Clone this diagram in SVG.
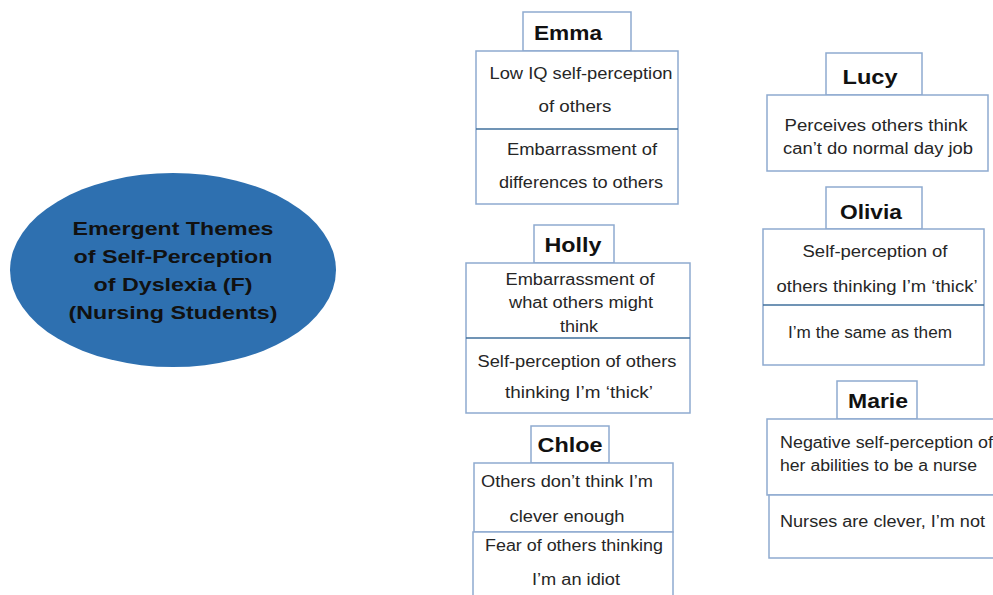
<svg xmlns="http://www.w3.org/2000/svg" width="993" height="595" viewBox="0 0 993 595">
<style>
.box{fill:#fff;stroke:#8eaad0;stroke-width:1.5}
.div{stroke:#41719c;stroke-width:1.5}
.t{font-family:"Liberation Sans",Arial,sans-serif;font-size:16px;fill:#262626;text-anchor:middle}
.l{text-anchor:start}
.h{font-family:"Liberation Sans",Arial,sans-serif;font-size:21px;font-weight:bold;fill:#111;text-anchor:middle}
.c{font-family:"Liberation Sans",Arial,sans-serif;font-size:19px;font-weight:bold;fill:#111;text-anchor:middle}
</style>
<rect width="993" height="595" fill="#fff"/>
<g id="center">
<ellipse cx="173" cy="270" rx="163" ry="97" fill="#2e70b0"/>
<text class="c" x="173" y="235" textLength="201" lengthAdjust="spacingAndGlyphs">Emergent Themes</text>
<text class="c" x="173" y="263" textLength="199" lengthAdjust="spacingAndGlyphs">of Self-Perception</text>
<text class="c" x="173" y="291" textLength="159" lengthAdjust="spacingAndGlyphs">of Dyslexia (F)</text>
<text class="c" x="173" y="319" textLength="209" lengthAdjust="spacingAndGlyphs">(Nursing Students)</text>
</g>
<g id="emma">
<rect class="box" x="523" y="12" width="108" height="39"/>
<text class="h" x="568" y="40" textLength="68" lengthAdjust="spacingAndGlyphs">Emma</text>
<rect class="box" x="476" y="51" width="202" height="153"/>
<line class="div" x1="476" y1="129" x2="678" y2="129"/>
<text class="t" x="581" y="79" textLength="183" lengthAdjust="spacingAndGlyphs">Low IQ self-perception</text>
<text class="t" x="575" y="112" textLength="73" lengthAdjust="spacingAndGlyphs">of others</text>
<text class="t" x="582" y="155" textLength="150" lengthAdjust="spacingAndGlyphs">Embarrassment of</text>
<text class="t" x="581" y="188" textLength="164" lengthAdjust="spacingAndGlyphs">differences to others</text>
</g>
<g id="holly">
<rect class="box" x="534" y="225" width="80" height="38"/>
<text class="h" x="573" y="252" textLength="57" lengthAdjust="spacingAndGlyphs">Holly</text>
<rect class="box" x="466" y="263" width="224" height="150"/>
<line class="div" x1="466" y1="338" x2="690" y2="338"/>
<text class="t" x="580" y="285" textLength="149" lengthAdjust="spacingAndGlyphs">Embarrassment of</text>
<text class="t" x="581" y="308" textLength="144" lengthAdjust="spacingAndGlyphs">what others might</text>
<text class="t" x="579" y="332" textLength="38" lengthAdjust="spacingAndGlyphs">think</text>
<text class="t" x="577" y="367" textLength="199" lengthAdjust="spacingAndGlyphs">Self-perception of others</text>
<text class="t" x="579" y="398" textLength="148" lengthAdjust="spacingAndGlyphs">thinking  I’m ‘thick’</text>
</g>
<g id="chloe">
<rect class="box" x="531" y="426" width="78" height="37"/>
<text class="h" x="570" y="452" textLength="65" lengthAdjust="spacingAndGlyphs">Chloe</text>
<rect class="box" x="474" y="463" width="199" height="69"/>
<rect class="box" x="473" y="532" width="200" height="70"/>
<text class="t" x="567" y="487" textLength="172" lengthAdjust="spacingAndGlyphs">Others don’t think  I’m</text>
<text class="t" x="567" y="522" textLength="115" lengthAdjust="spacingAndGlyphs">clever enough</text>
<text class="t" x="574" y="551" textLength="178" lengthAdjust="spacingAndGlyphs">Fear of others thinking</text>
<text class="t" x="576" y="585" textLength="88" lengthAdjust="spacingAndGlyphs">I’m an idiot</text>
</g>
<g id="lucy">
<rect class="box" x="826" y="53" width="96" height="42"/>
<text class="h" x="870" y="84" textLength="55" lengthAdjust="spacingAndGlyphs">Lucy</text>
<rect class="box" x="767" y="95" width="221" height="76"/>
<text class="t" x="876" y="131" textLength="183" lengthAdjust="spacingAndGlyphs">Perceives  others think</text>
<text class="t" x="878" y="154" textLength="190" lengthAdjust="spacingAndGlyphs">can’t do normal day job</text>
</g>
<g id="olivia">
<rect class="box" x="826" y="187" width="96" height="42"/>
<text class="h" x="871" y="219" textLength="62" lengthAdjust="spacingAndGlyphs">Olivia</text>
<rect class="box" x="763" y="229" width="221" height="136"/>
<line class="div" x1="763" y1="305" x2="984" y2="305"/>
<text class="t" x="875" y="257" textLength="145" lengthAdjust="spacingAndGlyphs">Self-perception of</text>
<text class="t" x="877" y="292" textLength="201" lengthAdjust="spacingAndGlyphs">others thinking  I’m ‘thick’</text>
<text class="t" x="870" y="338" textLength="164" lengthAdjust="spacingAndGlyphs">I’m the same as them</text>
</g>
<g id="marie">
<rect class="box" x="837" y="381" width="80" height="38"/>
<text class="h" x="878" y="408" textLength="60" lengthAdjust="spacingAndGlyphs">Marie</text>
<rect class="box" x="767" y="419" width="240" height="76"/>
<rect class="box" x="769" y="495" width="240" height="63"/>
<text class="t l" x="780" y="448" textLength="213" lengthAdjust="spacingAndGlyphs">Negative self-perception of</text>
<text class="t l" x="780" y="471" textLength="197" lengthAdjust="spacingAndGlyphs">her abilities to be a nurse</text>
<text class="t l" x="780" y="527" textLength="205" lengthAdjust="spacingAndGlyphs">Nurses are clever, I’m not</text>
</g>
<g id="connectors"/>
</svg>
